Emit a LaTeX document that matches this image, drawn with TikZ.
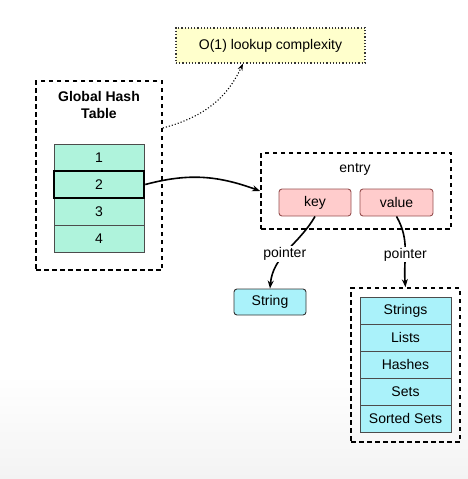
\documentclass[tikz,border=0pt]{standalone}
\usepackage{fontspec}
\setmainfont{Liberation Sans}
\usetikzlibrary{arrows.meta}
\definecolor{mint}{RGB}{175,243,220}
\definecolor{pinkf}{RGB}{255,204,204}
\definecolor{pinkd}{RGB}{150,80,80}
\definecolor{cyanf}{RGB}{170,242,250}
\definecolor{yelf}{RGB}{255,255,204}
\definecolor{bgg}{RGB}{243,243,243}
\begin{document}
\begin{tikzpicture}[x=1pt,y=-1pt,
  font=\fontsize{14}{16}\selectfont,
  group/.style={draw=black, line width=1.7pt, dash pattern=on 4.5pt off 3.5pt, inner sep=0pt},
  cell/.style={draw=black!70, line width=0.9pt, fill=mint, minimum width=90pt, minimum height=27pt, inner sep=0pt},
  kv/.style={draw=pinkd, line width=0.9pt, fill=pinkf, rounded corners=3pt, minimum width=72pt, minimum height=27pt, inner sep=0pt},
  tcell/.style={draw=black!70, line width=0.9pt, fill=cyanf, minimum width=91pt, minimum height=27pt, inner sep=0pt},
  arr/.style={-{Stealth[length=8pt,width=6pt]}, line width=1.6pt},
  lbl/.style={fill=white, inner sep=1pt}
]
\useasboundingbox (0,0) rectangle (468,479);
\shade[top color=white, bottom color=bgg] (0,375) rectangle (468,479);

% note
\node[draw=black!80, dotted, line width=1.2pt, fill=yelf, minimum width=189pt, minimum height=35pt, inner sep=0pt] (note) at (270.5,45.5) {O(1) lookup complexity};

% global hash table
\node[group, minimum width=126pt, minimum height=189pt] (ght) at (99,175.5) {};
\node[font=\fontsize{14}{16.5}\selectfont\bfseries, align=center] (ghtt) at (99,105) {Global Hash\\Table};
\node[cell] (r1) at (99,157.5) {1};
\node[cell] (r3) at (99,211.5) {3};
\node[cell] (r4) at (99,238.5) {4};
\node[cell, draw=black, line width=2.6pt] (r2) at (99,184.5) {2};

% entry
\node[group, minimum width=190pt, minimum height=76pt] (entry) at (356,191) {};
\node (entryt) at (355,169) {entry};
\node[kv] (key) at (315,202.5) {key};
\node[kv, minimum width=73pt] (value) at (396.5,202.5) {value};

% string
\node[draw=black!80, line width=0.9pt, fill=cyanf, rounded corners=3pt, minimum width=72pt, minimum height=26pt, inner sep=0pt] (str) at (270,302) {String};

% types
\node[group, minimum width=109pt, minimum height=154pt] (types) at (405.5,365) {};
\node[tcell] (t1) at (405.5,310.5) {Strings};
\node[tcell] (t2) at (405.5,337.5) {Lists};
\node[tcell] (t3) at (405.5,364.5) {Hashes};
\node[tcell] (t4) at (405.5,391.5) {Sets};
\node[tcell] (t5) at (405.5,418.5) {Sorted Sets};

% connectors
\draw[arr] (r2.east) to[out=15, in=160] (entry.west);
\draw[-{Stealth[length=7pt,width=5pt]}, dotted, line width=1.1pt] (ght.east |- 0,128) to[out=15, in=-115] (note.south -| 243,0);
\draw[arr] (key.south) to[out=-120, in=85] node[lbl, pos=0.55] {pointer} (str.north);
\draw[arr] (value.south) to[out=-60, in=95] node[lbl, pos=0.56] {pointer} (types.north);
\end{tikzpicture}
\end{document}
